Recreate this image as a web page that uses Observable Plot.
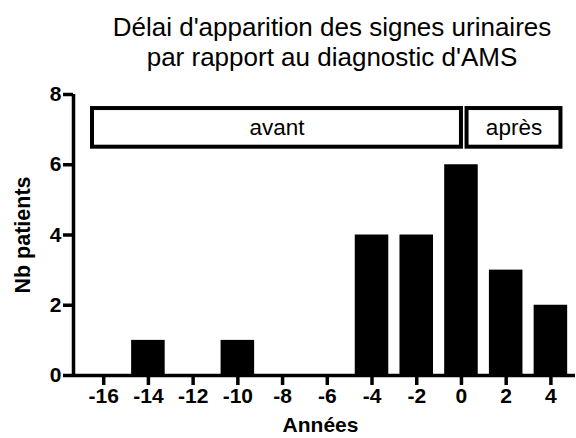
<!DOCTYPE html>
<html>
<head>
<meta charset="utf-8">
<script src="https://cdn.jsdelivr.net/npm/d3@7"></script>
<script src="https://cdn.jsdelivr.net/npm/@observablehq/plot@0.6"></script>
<style>
  html, body { margin: 0; padding: 0; background: #fff; }
  body { width: 576px; height: 438px; overflow: hidden; font-family: "Liberation Sans", Arial, sans-serif; }
  #title { box-sizing: border-box; width: 576px; height: 80px; padding: 12px 0 0 88px; text-align: center;
           font-size: 26px; line-height: 30px; color: #000; white-space: nowrap; }
  svg { display: block; }
</style>
</head>
<body>
<div id="title">Délai d'apparition des signes urinaires<br>par rapport au diagnostic d'AMS</div>
<div id="chart"></div>
<script>
// Data
const years = [-14, -10, -4, -2, 0, 2, 4];
const counts = [1, 1, 4, 4, 6, 3, 2];
const xTicks = [-16, -14, -12, -10, -8, -6, -4, -2, 0, 2, 4];
const yTicks = [0, 2, 4, 6, 8];
const periodLabels = ["avant", "après"];
const periodStart = [-16.5, 0.25];
const periodEnd = [0, 4.45];
const periodLow = [6.5, 6.5];
const periodHigh = [7.6, 7.6];

const xDomain = [-17.35, 5.1];
const yDomain = [0, 8];
const halfWidth = 0.75;

const bars = years.map((y, i) => ({year: y, n: counts[i]}));
const periods = periodLabels.map((l, i) => ({label: l, x1: periodStart[i], x2: periodEnd[i], y1: periodLow[i], y2: periodHigh[i]}));

const font = "Liberation Sans, Arial, sans-serif";

const chart = Plot.plot({
  width: 576,
  height: 358,
  marginLeft: 73,
  marginRight: 1,
  marginTop: 14,
  marginBottom: 63,
  style: {fontFamily: font, color: "#000", background: "#fff"},
  x: {type: "linear", domain: xDomain},
  y: {type: "linear", domain: yDomain},
  marks: [
    Plot.rect(bars, {x1: d => d.year - halfWidth, x2: d => d.year + halfWidth, y1: 0, y2: "n", fill: "#000"}),
    Plot.rect(periods, {x1: "x1", x2: "x2", y1: "y1", y2: "y2", fill: "#fff", stroke: "#000", strokeWidth: 4}),
    Plot.text(periods, {x: d => (d.x1 + d.x2) / 2, y: d => (d.y1 + d.y2) / 2, text: "label", fontSize: 22.5, fill: "#000"}),
    Plot.ruleY([0], {strokeWidth: 3.5, stroke: "#000"}),
    Plot.ruleX([xDomain[0]], {y1: yDomain[0], y2: yDomain[1], strokeWidth: 3.5, stroke: "#000"}),
    Plot.axisY({ticks: yTicks, tickSize: 10, strokeWidth: 3.5, tickPadding: 2, fontSize: 21, fontWeight: "bold", label: null, tickFormat: d => String(d)}),
    Plot.axisX({ticks: xTicks, tickSize: 10, strokeWidth: 3.5, tickPadding: 3, fontSize: 21, fontWeight: "bold", label: null, tickFormat: d => String(d)}),
    Plot.text(["Nb patients"], {frameAnchor: "left", dx: -50, rotate: -90, textAnchor: "middle", lineAnchor: "middle", fontSize: 21.5, fontWeight: "bold", fill: "#000"}),
    Plot.text(["Années"], {frameAnchor: "bottom", dx: -4, dy: 50, textAnchor: "middle", lineAnchor: "middle", fontSize: 21, fontWeight: "bold", fill: "#000"})
  ]
});
document.getElementById("chart").appendChild(chart);
</script>
</body>
</html>
